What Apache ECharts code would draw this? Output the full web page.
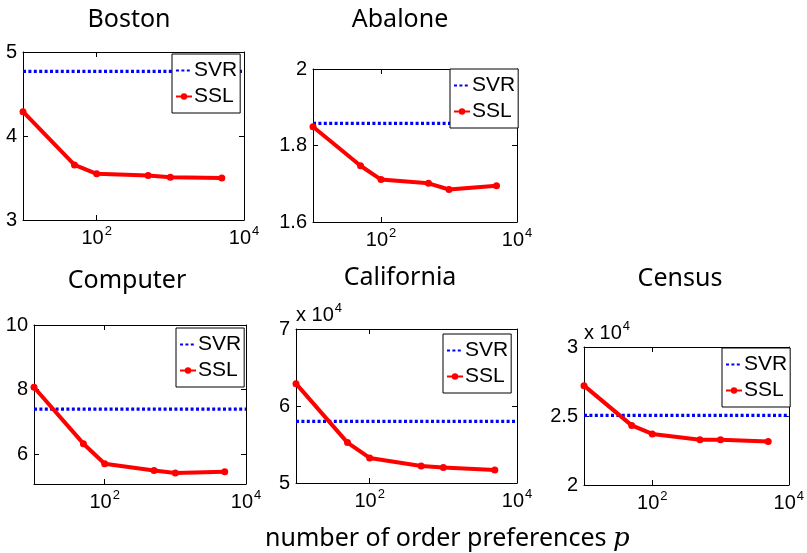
<!DOCTYPE html>
<html>
<head>
<meta charset="utf-8">
<script src="https://cdn.jsdelivr.net/npm/echarts@6/dist/echarts.min.js"></script>
<style>
  html, body { margin: 0; padding: 0; background: #fff; }
  #main { width: 807px; height: 553px; }
</style>
</head>
<body>
<div id="main"></div>
<script>
// number of order preferences p (x axis, log scale)
var pValues = [10, 50, 100, 500, 1000, 5000];
var xRange = [10, 10000];
var xTickExp = [2, 4];

var titles = ['Boston', 'Abalone', 'Computer', 'California', 'Census'];

// SVR baseline per dataset
var svrValues = [4.77, 1.858, 7.39, 58000, 25050];

// SSL curves
var bostonSSL = [4.29, 3.655, 3.55, 3.53, 3.51, 3.50];
var abaloneSSL = [1.849, 1.747, 1.711, 1.701, 1.685, 1.695];
var computerSSL = [8.07, 6.32, 5.70, 5.49, 5.41, 5.45];
var californiaSSL = [62900, 55250, 53250, 52200, 52000, 51700];
var censusSSL = [27200, 24320, 23700, 23280, 23280, 23160];

// y ranges and ticks
var yMin = [3, 1.6, 5.07, 50000, 20000];
var yMax = [5, 2, 10, 70000, 30000];
var yTicks = [
    [3, 4, 5],
    [1.6, 1.8, 2],
    [6, 8, 10],
    [50000, 60000, 70000],
    [20000, 25000, 30000]
];
var yScale = [1, 1, 1, 10000, 10000];

window.onload = () => {
    var chartDom = document.getElementById('main');
    var myChart = echarts.init(chartDom, null, { renderer: 'canvas' });
    var option;

    var sslAll = [bostonSSL, abaloneSSL, computerSSL, californiaSSL, censusSSL];

    // panel boxes (pixels)
    var boxes = [
        { left: 23, top: 52, width: 221, height: 168 },
        { left: 313, top: 69, width: 204, height: 153 },
        { left: 34, top: 325, width: 212, height: 159 },
        { left: 296, top: 329, width: 221, height: 154 },
        { left: 584, top: 347, width: 205, height: 138 }
    ];
    var legendPos = [[172, 54], [450, 69], [176, 328], [443, 334], [722, 348]];
    var titlePos = [[129, 20], [400, 20], [127, 281], [400, 278], [680, 279]];

    var tickFont = 'Liberation Sans, Arial, sans-serif';
    var axisLine = { show: true, lineStyle: { color: '#000', width: 1 } };

    var grids = [], xAxes = [], yAxes = [], series = [], legends = [], graphics = [];

    for (let i = 0; i < 5; i++) {
        grids.push(Object.assign({ containLabel: false, show: false }, boxes[i]));

        var xBase = {
            type: 'value',
            gridIndex: i,
            min: Math.log10(xRange[0]),
            max: Math.log10(xRange[1]),
            axisLine: axisLine,
            splitLine: { show: false },
            axisTick: { inside: true, length: 5, customValues: xTickExp, lineStyle: { color: '#000' } }
        };
        xAxes.push(Object.assign({}, xBase, {
            position: 'bottom',
            axisLabel: {
                customValues: xTickExp,
                margin: 5,
                formatter: v => '{b|10}{s|' + v + '}',
                rich: {
                    b: { fontSize: 20, fontFamily: tickFont, color: '#000' },
                    s: { fontSize: 13, fontFamily: tickFont, color: '#000', padding: [0, 0, 14, 1] }
                }
            }
        }));
        xAxes.push(Object.assign({}, xBase, { position: 'top', axisLabel: { show: false } }));

        var yBase = {
            type: 'value',
            gridIndex: i,
            min: yMin[i],
            max: yMax[i],
            axisLine: axisLine,
            splitLine: { show: false },
            axisTick: { inside: true, length: 5, customValues: yTicks[i], lineStyle: { color: '#000' } }
        };
        var yLeft = Object.assign({}, yBase, {
            position: 'left',
            axisLabel: {
                customValues: yTicks[i],
                margin: 6,
                color: '#000',
                fontSize: 20,
                fontFamily: tickFont,
                formatter: v => String(+(v / yScale[i]).toFixed(2))
            }
        });
        if (yScale[i] !== 1) {
            yLeft.name = '{a|x 10}{s|4}';
            yLeft.nameLocation = 'end';
            yLeft.nameGap = 0;
            yLeft.nameTextStyle = {
                align: 'left',
                verticalAlign: 'bottom',
                rich: {
                    a: { fontSize: 20, fontFamily: tickFont, color: '#000' },
                    s: { fontSize: 13, fontFamily: tickFont, color: '#000', padding: [0, 0, 14, 1] }
                }
            };
        }
        yAxes.push(yLeft);
        yAxes.push(Object.assign({}, yBase, { position: 'right', axisLabel: { show: false } }));

        series.push({
            name: 'SVR',
            type: 'line',
            xAxisIndex: i * 2,
            yAxisIndex: i * 2,
            data: [[Math.log10(xRange[0]), svrValues[i]], [Math.log10(xRange[1]), svrValues[i]]],
            symbol: 'none',
            lineStyle: { color: '#0000ff', width: 3.2, type: [3, 2.4], cap: 'butt' },
            itemStyle: { color: '#0000ff' },
            silent: true,
            z: 2
        });
        series.push({
            name: 'SSL',
            type: 'line',
            xAxisIndex: i * 2,
            yAxisIndex: i * 2,
            data: pValues.map((p, k) => [Math.log10(p), sslAll[i][k]]),
            symbol: 'circle',
            symbolSize: 7,
            lineStyle: { color: '#ff0000', width: 4 },
            itemStyle: { color: '#ff0000' },
            silent: true,
            z: 3
        });

        legends.push({
            data: [{ name: 'SVR', itemStyle: { opacity: 0 } }, 'SSL'],
            orient: 'vertical',
            left: legendPos[i][0],
            top: legendPos[i][1],
            backgroundColor: '#fff',
            borderColor: '#000',
            borderWidth: 1,
            borderRadius: 0,
            padding: [6, 3, 6, 3],
            itemGap: 5,
            itemWidth: 16,
            itemHeight: 8,
            selectedMode: false,
            textStyle: { fontSize: 21, fontFamily: tickFont, color: '#000', lineHeight: 21, padding: [0, 0, 0, -3] }
        });

        graphics.push({
            type: 'text',
            x: titlePos[i][0],
            y: titlePos[i][1],
            style: {
                text: titles[i],
                font: '25px "Noto Sans", sans-serif',
                fill: '#000',
                align: 'center',
                verticalAlign: 'middle'
            }
        });
    }

    graphics.push({
        type: 'text',
        x: 265,
        y: 539,
        style: {
            text: '{n|number of order preferences }{p|p}',
            verticalAlign: 'middle',
            rich: {
                n: { fontSize: 25, fontFamily: 'Noto Sans, sans-serif', fill: '#000' },
                p: { fontSize: 26, fontFamily: 'DejaVu Serif, serif', fontStyle: 'italic', fill: '#000' }
            }
        }
    });

    option = {
        animation: false,
        backgroundColor: '#fff',
        grid: grids,
        xAxis: xAxes,
        yAxis: yAxes,
        legend: legends,
        series: series,
        graphic: graphics
    };
    option && myChart.setOption(option);
}
</script>
</body>
</html>
